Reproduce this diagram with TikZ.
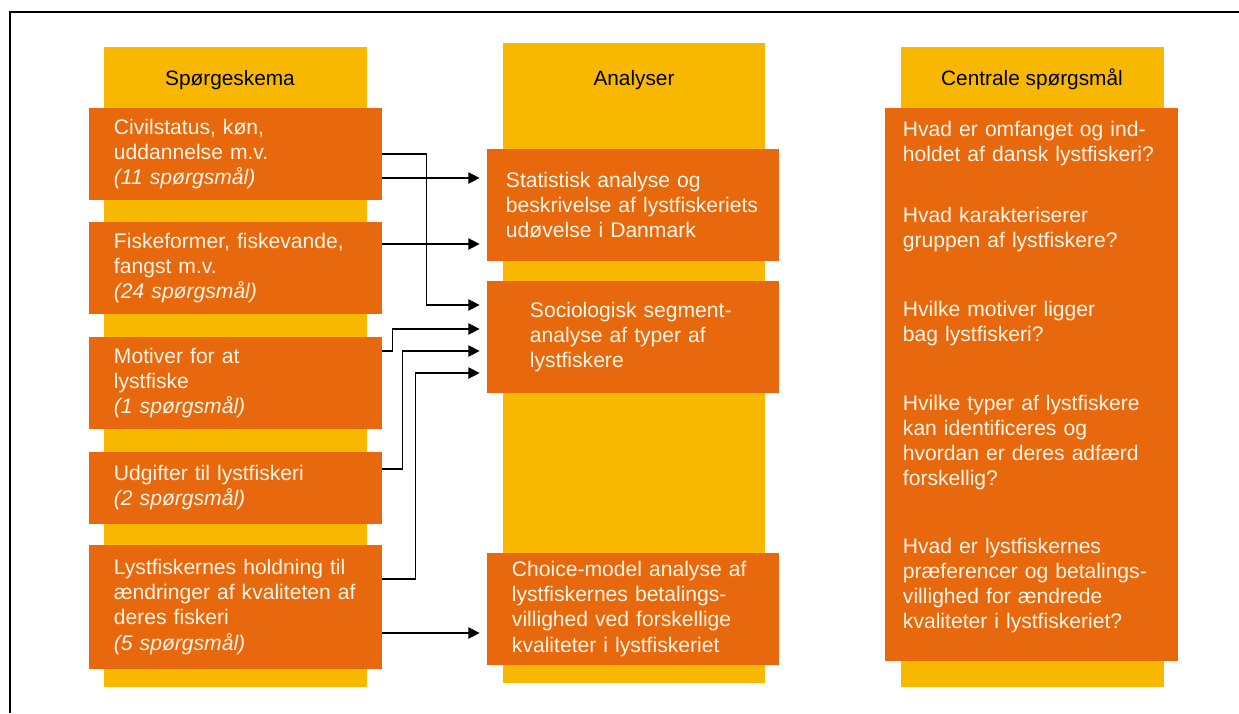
\documentclass[tikz,border=0pt]{standalone}
\usepackage{fontspec}
\setmainfont{Liberation Sans}
\usetikzlibrary{arrows.meta,calc}

\definecolor{bandyellow}{RGB}{249,184,0}
\definecolor{boxorange}{RGB}{232,104,14}
\definecolor{boxtext}{RGB}{255,246,232}

\tikzset{
  band/.style={fill=bandyellow},
  qbox/.style={fill=boxorange, text=boxtext, align=left, inner ysep=0pt, font=\fontsize{15}{17.8}\selectfont},
  hdr/.style={anchor=base, font=\fontsize{14.8}{17}\selectfont},
  arr/.style={draw=black, line width=0.9pt, -{Triangle[length=8pt,width=8pt]}, shorten >=5pt}
}

\begin{document}
\begin{tikzpicture}[x=0.025cm, y=-0.025cm]
\useasboundingbox (0,0) rectangle (1239,713);
\draw[line width=1pt] (10,713) -- (10,12) -- (1239,12);

\fill[band] (104,47) rectangle (367,687);
\fill[band] (503,43) rectangle (765,683);
\fill[band] (901,47) rectangle (1164,687);

\node[hdr] (hdrq) at (230,85) {Spørgeskema};
\node[hdr] (hdra) at (634,85) {Analyser};
\node[hdr] (hdrc) at (1032,85) {Centrale spørgsmål};

\node[qbox, text width=6.075cm, inner xsep=0.625cm, minimum height=2.3cm] (q1) at (235.5,154) {Civilstatus, køn,\\uddannelse m.v.\\\textit{(11 spørgsmål)}};
\node[qbox, text width=6.075cm, inner xsep=0.625cm, minimum height=2.3cm] (q2) at (235.5,268) {Fiskeformer, fiskevande,\\fangst m.v.\\\textit{(24 spørgsmål)}};
\node[qbox, text width=6.075cm, inner xsep=0.625cm, minimum height=2.3cm] (q3) at (235.5,383) {Motiver for at\\lystfiske\\\textit{(1 spørgsmål)}};
\node[qbox, text width=6.075cm, inner xsep=0.625cm, minimum height=1.8cm] (q4) at (235.5,488) {Udgifter til lystfiskeri\\\textit{(2 spørgsmål)}};
\node[qbox, text width=6.075cm, inner xsep=0.625cm, minimum height=3.1cm] (q5) at (235.5,607) {Lystfiskernes holdning til\\ændringer af kvaliteten af\\deres fiskeri\\\textit{(5 spørgsmål)}};

\node[qbox, text width=6.35cm, inner xsep=0.475cm, minimum height=2.8cm] (a1) at (633,205) {Statistisk analyse og\\beskrivelse af lystfiskeriets\\udøvelse i Danmark};
\node[qbox, text width=5.15cm, inner xsep=1.075cm, minimum height=2.8cm] (a2) at (633,337) {Sociologisk segment-\\analyse af typer af\\lystfiskere};
\node[qbox, text width=6.05cm, inner xsep=0.625cm, minimum height=2.8cm] (a3) at (633,609) {Choice-model analyse af\\lystfiskernes betalings-\\villighed ved forskellige\\kvaliteter i lystfiskeriet};

\node[qbox, text width=6.425cm, inner xsep=0.45cm, minimum height=13.825cm] (c1) at (1031.5,384.5) {Hvad er omfanget og ind-\\holdet af dansk lystfiskeri?\\[26pt]Hvad karakteriserer\\gruppen af lystfiskere?\\[31pt]Hvilke motiver ligger\\bag lystfiskeri?\\[31pt]Hvilke typer af lystfiskere\\kan identificeres og\\hvordan er deres adfærd\\forskellig?\\[31pt]Hvad er lystfiskernes\\præferencer og betalings-\\villighed for ændrede\\kvaliteter i lystfiskeriet?\\[-4pt]\mbox{}};

\draw[arr] (q1.east) -- ++(44,0) |- ($(a2.west)+(0,-32)$);
\draw[arr] ($(q1.east)+(0,24)$) -- ($(a1.west)+(0,-27)$);
\draw[arr] ($(q2.east)+(0,-24)$) -- ($(a1.west)+(0,39)$);
\draw[arr] ($(q3.east)+(0,-32)$) -- ++(10,0) |- ($(a2.west)+(0,-8)$);
\draw[arr] ($(q4.east)+(0,-19)$) -- ++(20,0) |- ($(a2.west)+(0,14)$);
\draw[arr] ($(q5.east)+(0,-28)$) -- ++(33,0) |- ($(a2.west)+(0,36)$);
\draw[arr] ($(q5.east)+(0,26)$) -- ($(a3.west)+(0,24)$);

\end{tikzpicture}
\end{document}
